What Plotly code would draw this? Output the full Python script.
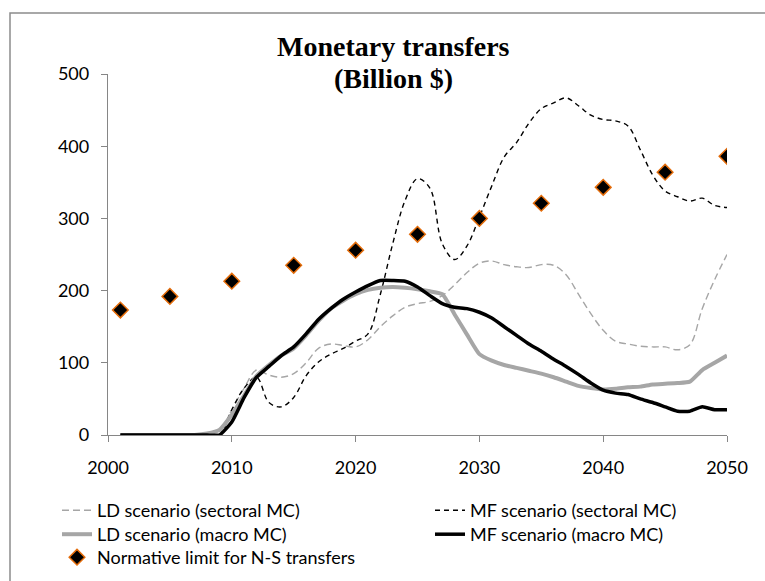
import plotly.graph_objects as go

years = list(range(2001, 2051))

ld_sectoral = [0, 0, 0, 0, 0, 0, 0, 0, 5,
               35, 65, 90, 83, 80, 85, 100, 120, 126, 124,
               122, 132, 150, 165, 177, 182, 185, 193, 208, 225,
               238, 241, 236, 233, 232, 236, 235, 222, 195, 168,
               145, 130, 126, 123, 122, 122, 118, 125, 175, 215, 250]

mf_sectoral = [0, 0, 0, 0, 0, 0, 0, 0, 0,
               35, 65, 80, 45, 39, 52, 82, 101, 112, 120,
               130, 140, 195, 265, 325, 355, 342, 265, 243, 262,
               302, 345, 385, 405, 432, 452, 460, 467, 456, 443,
               437, 435, 428, 395, 360, 338, 330, 324, 328, 318, 315]

ld_macro = [0, 0, 0, 0, 0, 0, 0, 2, 7,
            28, 55, 82, 97, 110, 120, 138, 158, 175, 186,
            195, 201, 204, 205, 204, 202, 199, 195, 167, 139,
            112, 103, 97, 93, 89, 85, 80, 74, 68, 65,
            63, 64, 66, 67, 70, 71, 72, 74, 90, 100, 110]

mf_macro = [0, 0, 0, 0, 0, 0, 0, 0, 0,
            18, 52, 80, 95, 110, 122, 140, 160, 175, 188,
            198, 207, 214, 214, 213, 205, 193, 182, 177, 175,
            170, 162, 150, 138, 126, 116, 105, 95, 84, 72,
            62, 58, 56, 50, 45, 39, 33, 33, 39, 35, 35]

norm_years = [2001, 2005, 2010, 2015, 2020, 2025, 2030, 2035, 2040, 2045, 2050]
norm_limit = [173, 192, 213, 235, 256, 278, 300, 321, 343, 364, 386]

names = ["LD scenario (sectoral MC)", "MF scenario (sectoral MC)",
         "LD scenario (macro MC)", "MF scenario (macro MC)",
         "Normative limit for N-S transfers"]

title_lines = ["Monetary transfers", "(Billion $)"]

x_ticks = [2000, 2010, 2020, 2030, 2040, 2050]
y_ticks = [0, 100, 200, 300, 400, 500]

GRAY = "#A6A6A6"
AXIS = "#868686"
FONT = "Lato"
FS = 18

fig = go.Figure()
fig.add_trace(go.Scatter(x=years, y=ld_sectoral, mode="lines", name=names[0],
                         line=dict(color=GRAY, width=1.4, dash="7px,4px", shape="spline", smoothing=1.0),
                         legend="legend"))
fig.add_trace(go.Scatter(x=years, y=mf_sectoral, mode="lines", name=names[1],
                         line=dict(color="black", width=1.4, dash="5px,4px", shape="spline", smoothing=1.0),
                         legend="legend2"))
fig.add_trace(go.Scatter(x=years, y=ld_macro, mode="lines", name=names[2],
                         line=dict(color=GRAY, width=4, shape="spline", smoothing=0.5),
                         legend="legend3"))
fig.add_trace(go.Scatter(x=years, y=mf_macro, mode="lines", name=names[3],
                         line=dict(color="black", width=3.5, shape="spline", smoothing=0.5),
                         legend="legend4"))
fig.add_trace(go.Scatter(x=norm_years, y=norm_limit, mode="markers", name=names[4],
                         marker=dict(symbol="diamond", size=12, color="black",
                                     line=dict(color="#E46C0A", width=1.5)),
                         legend="legend5"))

W, H = 765, 581
L, R, T, B = 108, 38, 74, 146
pw, ph = W - L - R, H - T - B

def px(xp):
    return (xp - L) / pw

def py(yp):
    return (H - B - yp) / ph

def leg(xp, yp):
    return dict(x=xp / W, y=1 - yp / H, xref="container", yref="container",
                xanchor="left", yanchor="top", orientation="v",
                font=dict(family=FONT, size=FS, color="black"),
                bgcolor="rgba(0,0,0,0)", itemwidth=30)

fig.update_layout(
    width=W, height=H,
    margin=dict(l=L, r=R, t=T, b=B, autoexpand=False),
    paper_bgcolor="white", plot_bgcolor="white",
    font=dict(family=FONT, size=FS, color="black"),
    showlegend=True,
    legend=leg(57, 492),
    legend2=leg(430, 492),
    legend3=leg(57, 516),
    legend4=leg(430, 516),
    legend5=leg(57, 539),
    xaxis=dict(range=[2000, 2050], tickvals=x_ticks, ticktext=[str(v) for v in x_ticks],
               showgrid=False, zeroline=False, showline=True, linecolor=AXIS, linewidth=1.3,
               ticks="outside", ticklen=6, tickcolor=AXIS, tickwidth=1.3, automargin=False,
               ticklabelstandoff=10,
               tickfont=dict(family=FONT, size=FS, color="black")),
    yaxis=dict(range=[0, 500], tickvals=y_ticks, ticktext=[str(v) for v in y_ticks],
               showgrid=False, zeroline=False, showline=True, linecolor=AXIS, linewidth=1.3,
               ticks="outside", ticklen=6, tickcolor=AXIS, tickwidth=1.3, automargin=False,
               ticklabelstandoff=8,
               tickfont=dict(family=FONT, size=FS, color="black")),
    annotations=[
        dict(text="<b>" + title_lines[0] + "</b>", x=px(393), y=py(46),
             xref="paper", yref="paper", showarrow=False, xanchor="center", yanchor="middle",
             font=dict(family="Liberation Serif", size=28, color="black")),
        dict(text="<b>" + title_lines[1] + "</b>", x=px(393), y=py(78),
             xref="paper", yref="paper", showarrow=False, xanchor="center", yanchor="middle",
             font=dict(family="Liberation Serif", size=28, color="black")),
    ],
    shapes=[dict(type="rect", xref="paper", yref="paper",
                 x0=px(10), x1=px(775), y0=py(595), y1=py(13),
                 line=dict(color="#8C8C8C", width=1.5), layer="below")],
)

fig.write_html("out.html", config={"displayModeBar": False},
               post_script="document.body.style.margin='0';")
